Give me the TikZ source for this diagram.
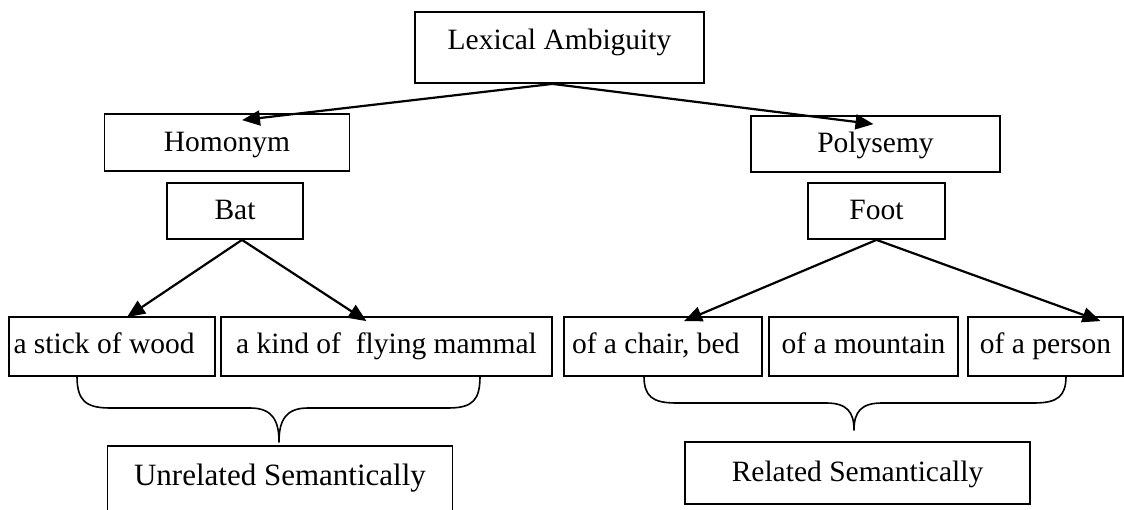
\documentclass[tikz,border=0pt]{standalone}
\usepackage{fontspec}
\setmainfont[Ligatures=NoCommon]{Liberation Serif}
\usetikzlibrary{arrows.meta,calc}

\tikzset{
  box/.style={draw, line width=1.8pt, inner sep=0pt, text height=20pt, text depth=6pt,
              font=\fontsize{29.5pt}{34pt}\selectfont},
  link/.style={line width=2.2pt, -{Triangle[length=18pt,width=15pt]}},
  brace/.style={line width=1.6pt, line join=round}
}

\begin{document}
\begin{tikzpicture}[x=1pt, y=-1pt]
\useasboundingbox (0,0) rectangle (1124,510);

% top level
\node[box, minimum width=289pt, minimum height=71pt, text height=15.5pt, text depth=10.5pt]
  (lex) at (559.5,47.5) {Lexical Ambiguity};

% second level
\node[box, minimum width=245pt, minimum height=57pt, text height=22.5pt, text depth=3.5pt]
  (hom) at (227,142.5) {Homonym};
\node[box, minimum width=249pt, minimum height=56pt, text height=22pt, text depth=4pt]
  (poly) at (875.5,144) {Polysemy};

% example words
\node[box, minimum width=136pt, minimum height=56pt, text height=22pt, text depth=4pt]
  (bat) at (235,211) {Bat};
\node[box, minimum width=137pt, minimum height=56pt, text height=22pt, text depth=4pt]
  (foot) at (876.5,211) {Foot};

% senses
\tikzset{sense/.style={box, minimum height=59pt, text height=20.5pt, text depth=5.5pt}}
\node[sense, minimum width=206pt] (stick) at (112,346.5) {\makebox[197pt][l]{a stick of wood}};
\node[sense, minimum width=331pt] (mammal) at (386.5,346.5) {a kind of\ \ flying mammal};
\node[sense, minimum width=198pt] (chair) at (663,346.5) {\makebox[182pt][l]{of a chair, bed}};
\node[sense, minimum width=189pt] (mountain) at (863.5,346.5) {of a mountain};
\node[sense, minimum width=155pt] (person) at (1045.5,346.5) {of a person};

% conclusions
\node[box, minimum width=345pt, minimum height=84pt, text height=10pt, text depth=16pt,
      font=\fontsize{31pt}{36pt}\selectfont]
  (unrel) at (280,488) {Unrelated Semantically};
\node[box, minimum width=345pt, minimum height=62pt, text height=21pt, text depth=5pt]
  (rel) at (857.5,473) {Related Semantically};

% arrows
\draw[link] ($(lex.south)+(-7,0)$) -- ($(hom.north)+(15,7)$);
\draw[link] ($(lex.south)+(-7,0)$) -- ($(poly.north)+(-2,9)$);
\draw[link] ($(bat.south)+(7,0)$) -- ($(stick.north)+(15,1)$);
\draw[link] ($(bat.south)+(7,0)$) -- ($(mammal.north)+(-20,5)$);
\draw[link] (foot.south) -- ($(chair.north)+(21,5)$);
\draw[link] (foot.south) -- ($(person.north)+(55,5)$);

% braces
\draw[brace] (77,376) .. controls (77,400) and (85,408) .. (110,408)
  -- (250,408) .. controls (272,408) and (279,420) .. (279,442)
  .. controls (279,420) and (286,408) .. (308,408)
  -- (448,408) .. controls (473,408) and (480,400) .. (480,376);
\draw[brace] (644,376) .. controls (644,396) and (652,403) .. (676,403)
  -- (826,403) .. controls (847,403) and (854,412) .. (854,430)
  .. controls (854,412) and (861,403) .. (882,403)
  -- (1034,403) .. controls (1058,403) and (1066,396) .. (1066,376);
\end{tikzpicture}
\end{document}
